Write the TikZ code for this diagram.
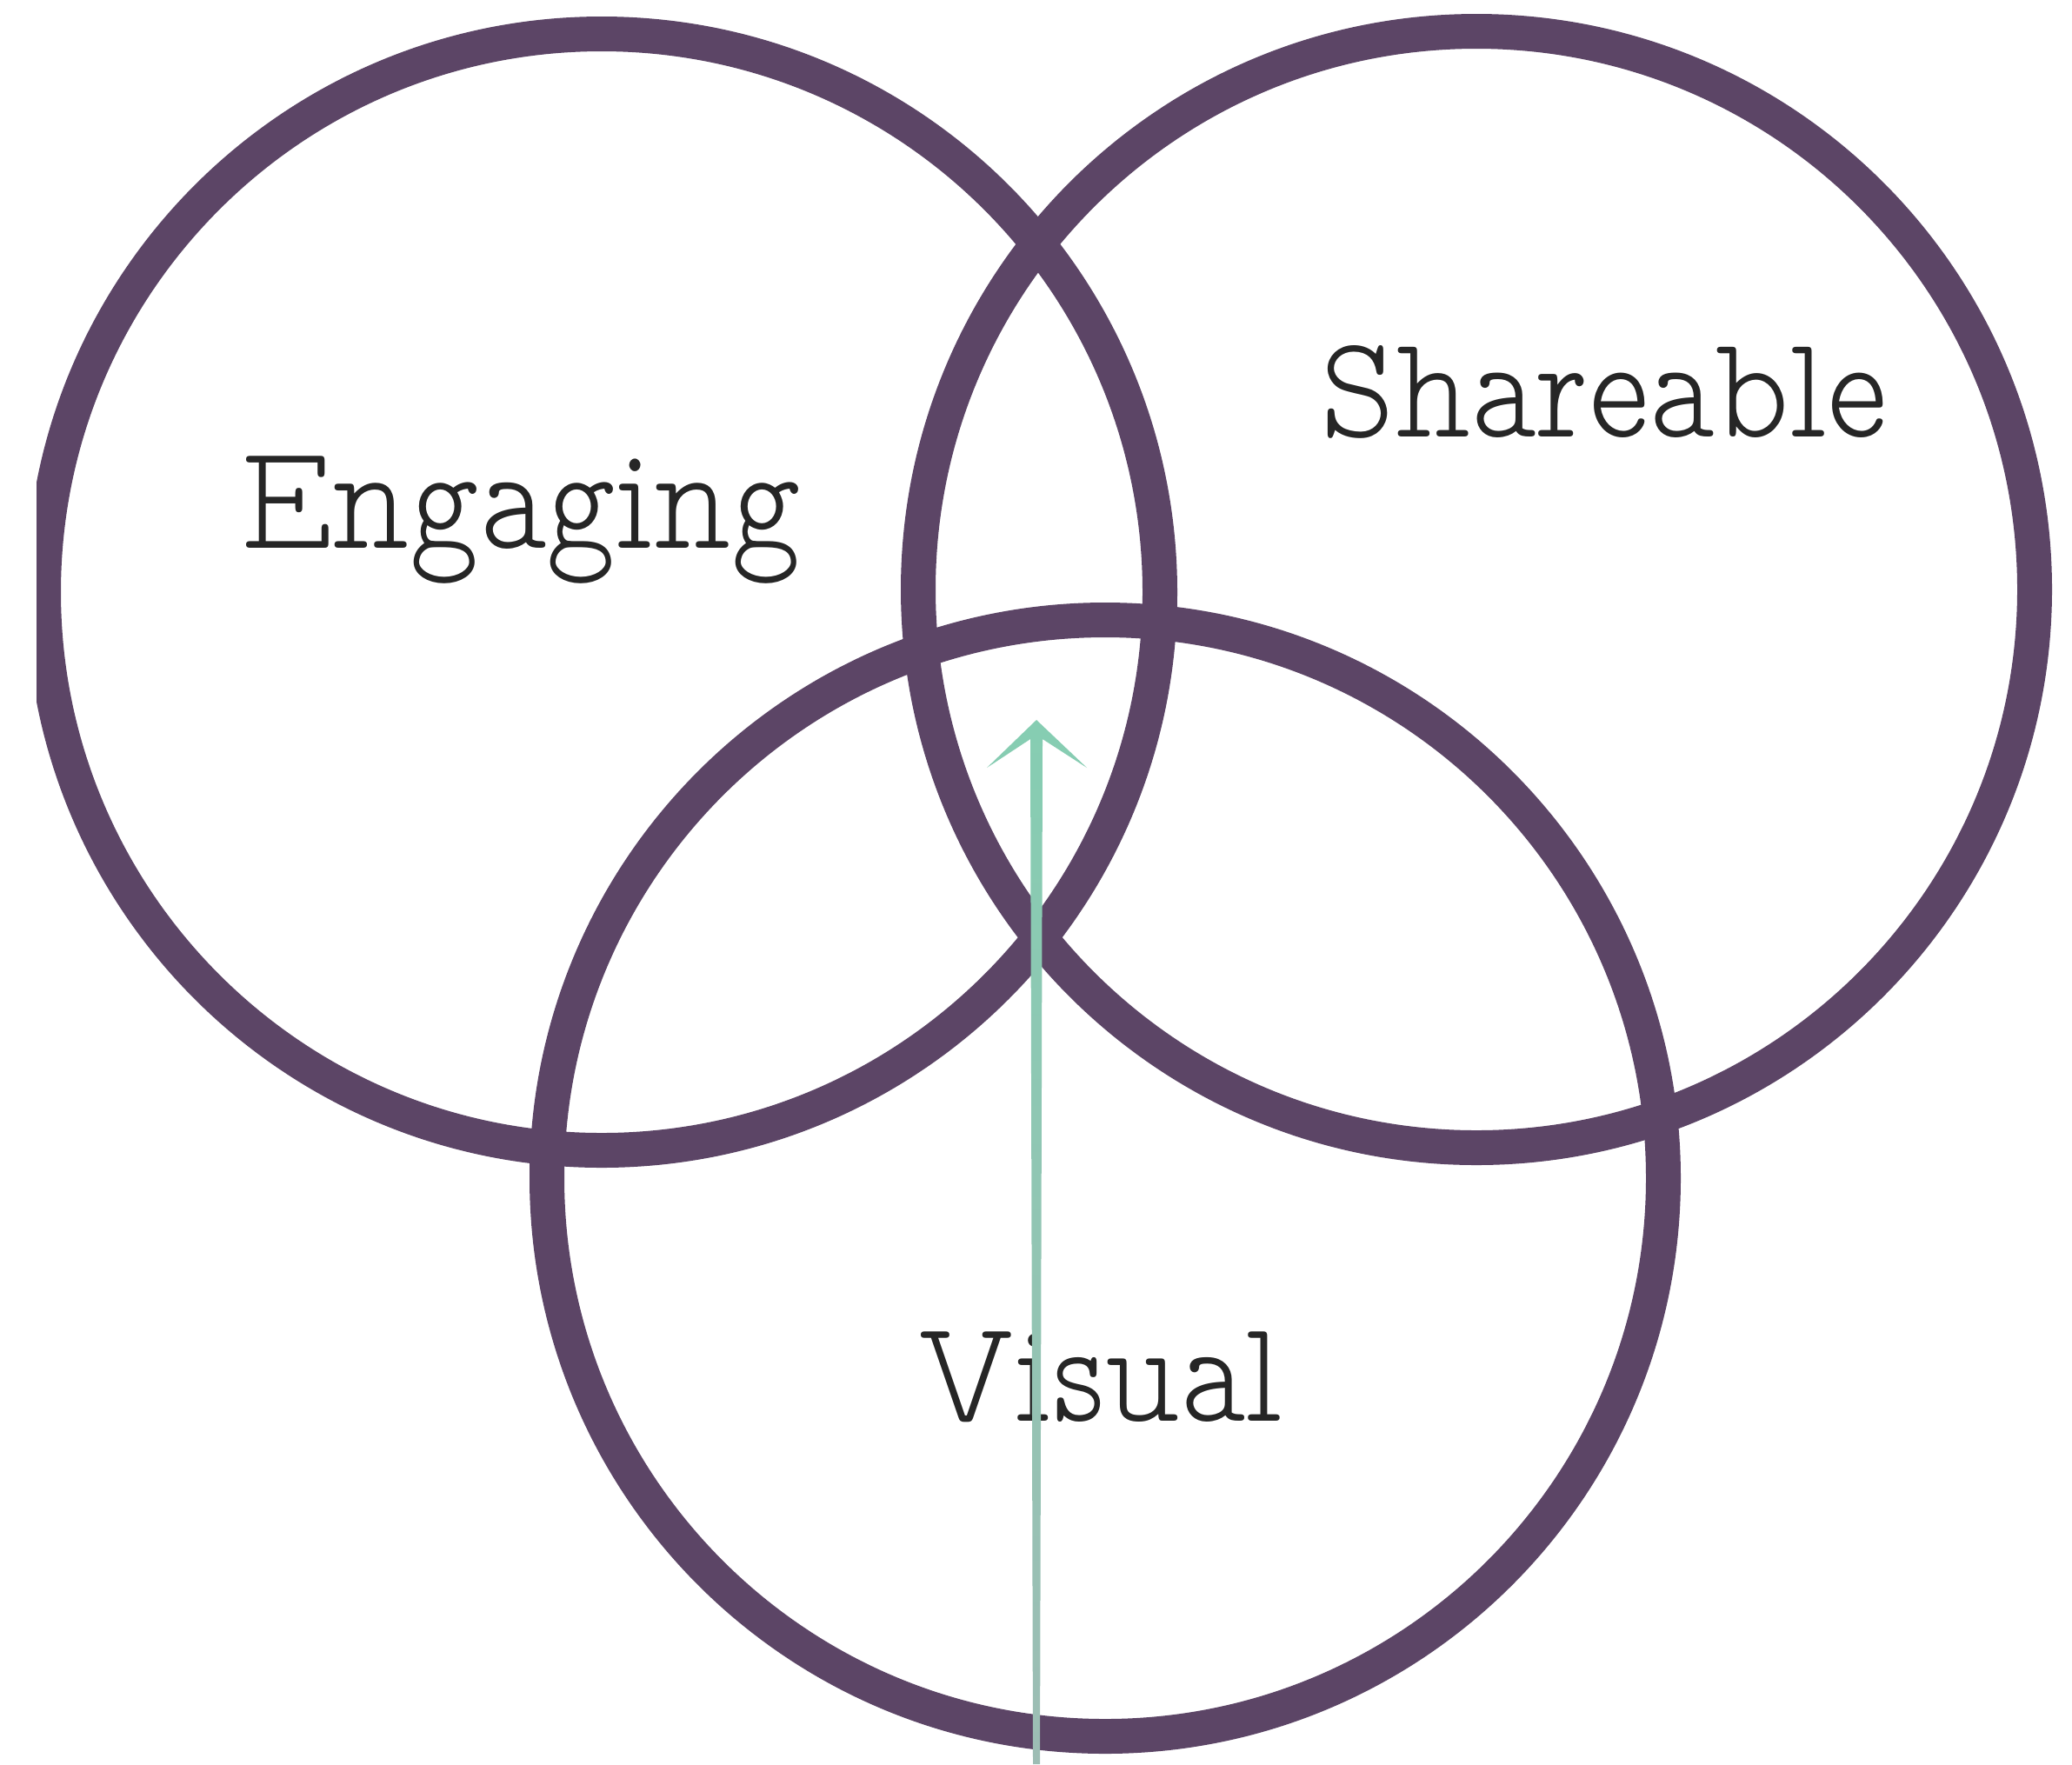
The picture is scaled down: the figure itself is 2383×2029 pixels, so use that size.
\documentclass[tikz,border=0pt]{standalone}
\usepackage{fontspec}
\newfontfamily\lblfont{lmmonoproplt10-regular}[Extension=.otf]
\usetikzlibrary{calc}
\definecolor{ringcol}{HTML}{5C4566}
\definecolor{txtcol}{HTML}{262626}
\definecolor{mint}{HTML}{86CDB2}
\definecolor{mintgray}{HTML}{9DBDB4}
\newcommand{\lbltext}[2]{\scalebox{1}[1.14]{\resizebox{#1}{!}{#2}}}
\tikzset{
  ring/.style={circle, draw=ringcol, line width=4mm, minimum size=128.4mm, inner sep=0pt},
  lbl/.style={text=txtcol, inner sep=0pt, anchor=base west, font=\lblfont\fontsize{40}{48}\selectfont}
}
\begin{document}
\begin{tikzpicture}[x=0.1mm, y=-0.1mm]
\useasboundingbox (0,0) rectangle (2383,2029);
\fill[white] (0,0) rectangle (2383,2029);
\begin{scope}
\clip (42,0) rectangle (2383,2029);
\node[ring] (eng) at (692,681) {};
\node[ring] (sha) at (1698,678) {};
\node[ring] (vis) at (1271,1355) {};
\end{scope}
\node[lbl] (engt) at (276,630) {\lbltext{64.4mm}{Engaging}};
\node[lbl] (shat) at (1518,502) {\lbltext{65.2mm}{Shareable}};
\node[lbl] (vist) at (1055,1634) {\lbltext{42mm}{Visual}};
% arrow
\coordinate (abase) at (1192,2029);
\coordinate (atip) at (1192,828);
\shade[top color=mint, bottom color=mintgray]
  ($(atip)+(0,0)$) -- ($(atip)+(58,55)$) -- ($(atip)+(7,22)$) --
  ($(abase)+(4,0)$) -- ($(abase)+(-4,0)$) -- ($(atip)+(-7,22)$) --
  ($(atip)+(-57,55)$) -- cycle;
\end{tikzpicture}
\end{document}
